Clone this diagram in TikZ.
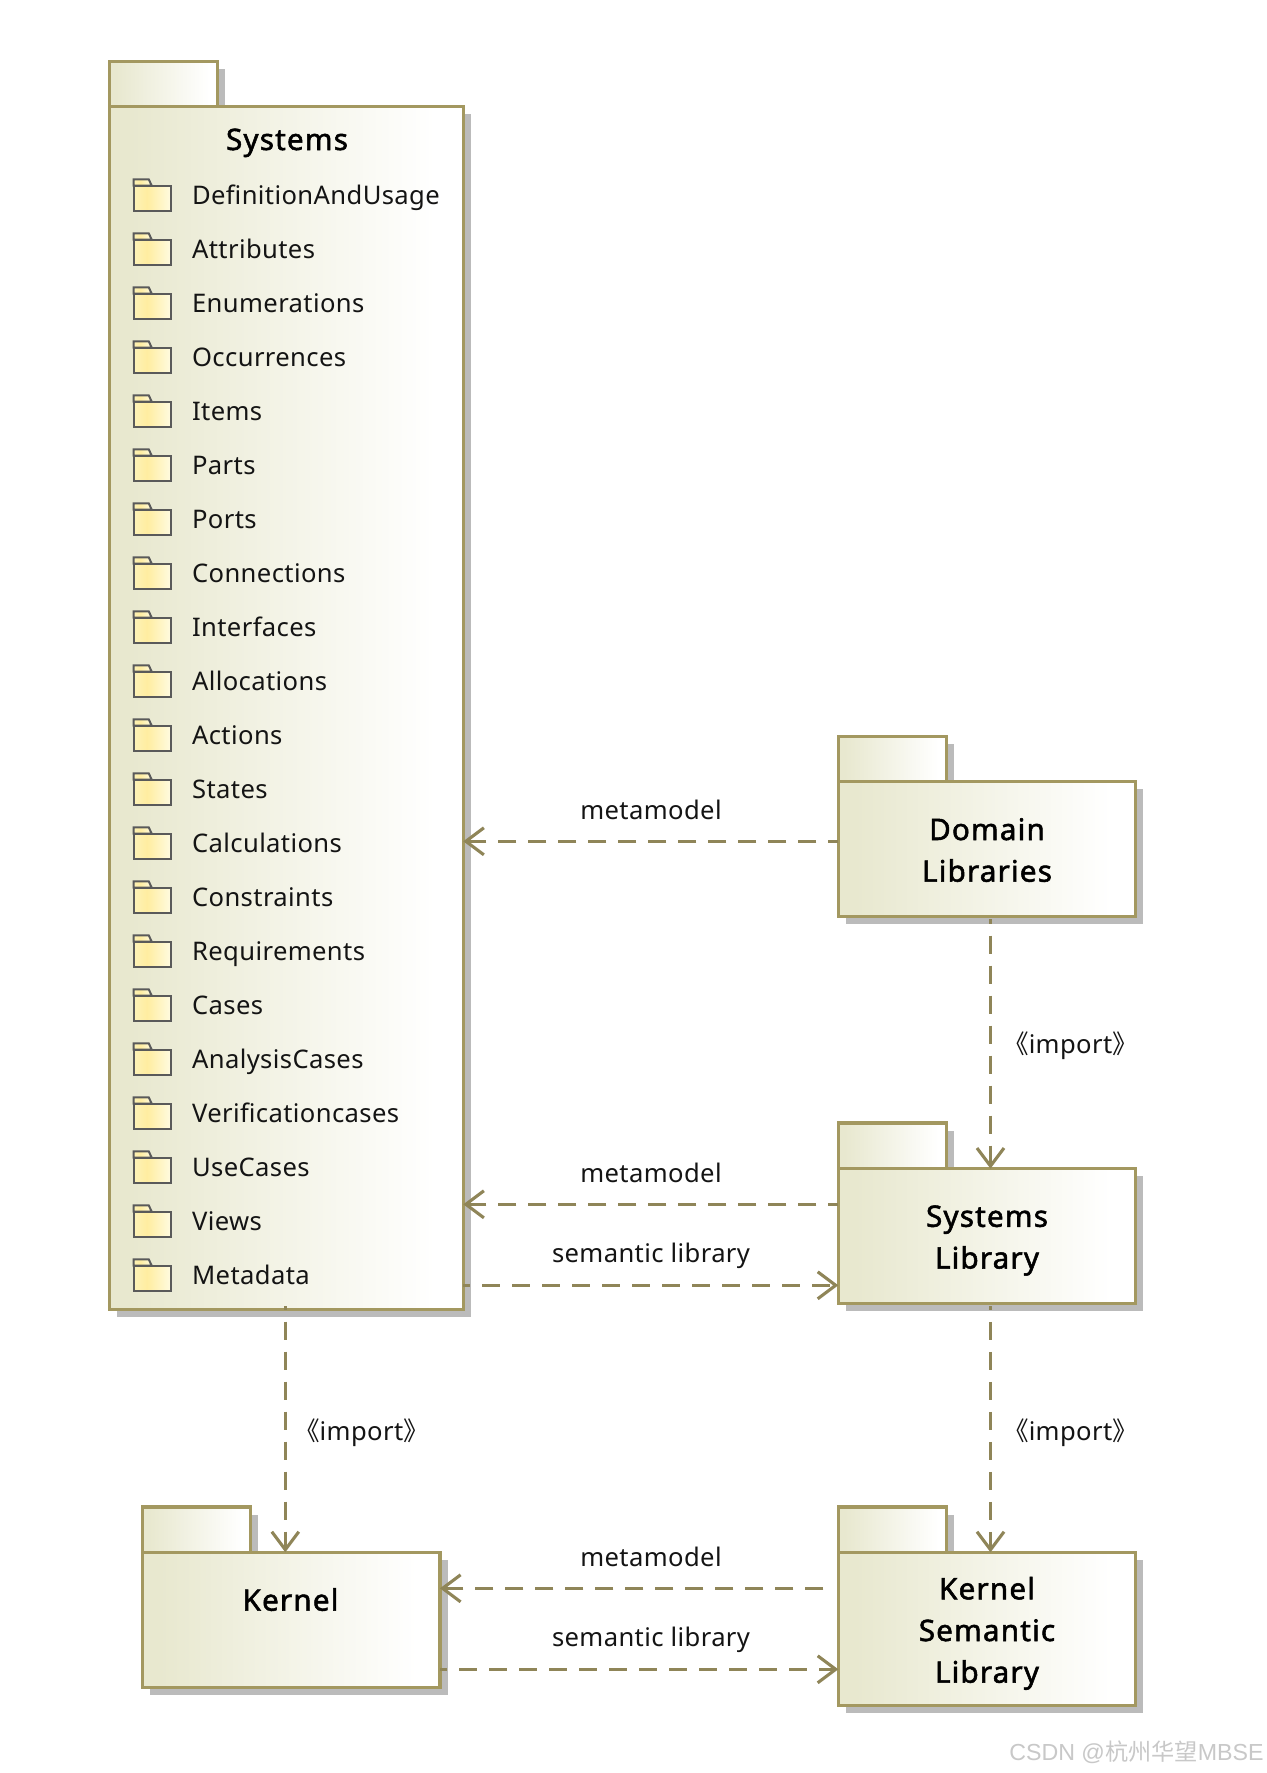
\documentclass[tikz,border=0pt]{standalone}
\usepackage{fontspec}
\usetikzlibrary{arrows.meta,shadows}
\setmainfont{Noto Sans}
\newfontfamily\bodyfont[LetterSpace=1.5]{Noto Sans}
\newfontfamily\titlefont[FakeBold=1.8,LetterSpace=4]{Noto Sans}
\newfontfamily\cjkfont{Noto Sans CJK SC}
\newfontfamily\markfont{Liberation Sans}
\definecolor{pkgborder}{HTML}{A39860}
\definecolor{depline}{HTML}{8F8558}
\definecolor{shadowgray}{HTML}{BBBBBB}
\definecolor{pkgleft}{HTML}{E8E8CF}
\definecolor{folderline}{HTML}{5A5A5A}
\definecolor{folderA}{HTML}{FDF2B8}
\definecolor{folderB}{HTML}{FFEDA0}
\definecolor{folderC}{HTML}{FFFBE0}
\definecolor{markgray}{HTML}{C8C8C8}
\pgfdeclarehorizontalshading{pkgshade}{100bp}{color(0bp)=(pkgleft); color(28bp)=(pkgleft); color(71bp)=(white); color(100bp)=(white)}
\pgfdeclarehorizontalshading{foldershade}{100bp}{color(0bp)=(folderA); color(25bp)=(folderA); color(43bp)=(folderB); color(75bp)=(folderC); color(100bp)=(folderC)}
\tikzset{
  boxsize/.style 2 args={minimum width=#1*0.5pt,minimum height=#2*0.5pt},
  pkgpart/.style={draw=pkgborder,line width=1.55pt,shade,shading=pkgshade,anchor=north west,inner sep=0pt,outer sep=0pt,
    general shadow={fill=shadowgray,shadow xshift=3.75pt,shadow yshift=-3.75pt}},
  dep/.style={draw=depline,line width=1.55pt,dash pattern=on 9pt off 6pt,dash phase=#1,
    -{Straight Barb[length=9pt,width=13.5pt,line width=1.55pt]}},
  title/.style={font=\titlefont\fontsize{14.8}{20.85}\selectfont,text=black,align=center,inner sep=0pt,anchor=base},
  item/.style={font=\bodyfont\fontsize{12.8}{15}\selectfont,text=black!92,inner sep=0pt,anchor=base west},
  lab/.style={font=\bodyfont\fontsize{12.8}{15}\selectfont,text=black!92,inner sep=0pt,anchor=base},
  folder/.style={draw=folderline,line width=1pt,line join=miter,shade,shading=foldershade},
}
\begin{document}
\begin{tikzpicture}[x=0.5pt,y=-0.5pt]
\useasboundingbox[fill=white] (0,0) rectangle (1266,1773);

% packages
\node[pkgpart,boxsize={108.4}{45.4}] (sysTab) at (109.3,61.3) {};
\node[pkgpart,boxsize={354}{1202.6}] (sys) at (109.3,106.7) {};
\node[pkgpart,boxsize={108.4}{45.4}] (domainTab) at (838.3,736.3) {};
\node[pkgpart,boxsize={297}{134.6}] (domain) at (838.3,781.7) {};
\node[pkgpart,boxsize={108.4}{45.4}] (slTab) at (838.3,1123) {};
\node[pkgpart,boxsize={297}{135}] (sl) at (838.3,1168.6) {};
\node[pkgpart,boxsize={108.4}{45.3}] (kernelTab) at (142.3,1507) {};
\node[pkgpart,boxsize={297.7}{135}] (kernel) at (142.3,1552.3) {};
\node[pkgpart,boxsize={108.4}{45.3}] (kslTab) at (838.3,1507) {};
\node[pkgpart,boxsize={297.4}{153.4}] (ksl) at (838.3,1552.3) {};

% titles (multi-line nodes sit on the baseline of their last line)
\node[title] (sysTitle) at (287,150) {Systems};
\node[title] (domainTitle) at (987,881.7) {Domain\\Libraries};
\node[title] (slTitle) at (987,1268.5) {Systems\\Library};
\node[title] (kernelTitle) at (290.5,1610.7) {Kernel};
\node[title] (kslTitle) at (987,1682.7) {Kernel\\Semantic\\Library};

% folder rows
\foreach \t [count=\i from 0] in {DefinitionAndUsage,Attributes,Enumerations,Occurrences,Items,Parts,Ports,Connections,Interfaces,Allocations,Actions,States,Calculations,Constraints,Requirements,Cases,AnalysisCases,Verificationcases,UseCases,Views,Metadata}{
  \begin{scope}[yshift={-27pt*\i}]
    \path[folder] (133.7,185.5) -- (133.7,179.3) -- (148.7,179.3) -- (151.7,185.5) -- cycle;
    \path[folder] (133.7,185.5) rectangle (170.7,211.3);
    \node[item] (row\i) at (191.7,204.3) {\t};
  \end{scope}
}

% connector levels
\coordinate (yDomain) at (0,841.3);
\coordinate (ySlMeta) at (0,1204.3);
\coordinate (ySlSem) at (0,1285.3);
\coordinate (yKMeta) at (0,1588.3);
\coordinate (yKSem) at (0,1669.3);
\coordinate (xLeft) at (285.3,0);
\coordinate (xRight) at (990.5,0);

% connectors
\draw[dep=4pt] (domain.west |- yDomain) -- (sys.east |- yDomain);
\draw[dep=4pt] (sl.west |- ySlMeta) -- (sys.east |- ySlMeta);
\draw[dep=5.5pt] (sys.east |- ySlSem) -- (sl.west |- ySlSem);
\draw[dep=9pt,shorten <=1.5pt] (ksl.west |- yKMeta) -- (kernel.east |- yKMeta);
\draw[dep=5.5pt] (kernel.east |- yKSem) -- (ksl.west |- yKSem);
\draw[dep=6.65pt,shorten <=1.35pt] (domain.south -| xRight) -- (sl.north -| xRight);
\draw[dep=7.2pt,shorten <=1.35pt] (sl.south -| xRight) -- (ksl.north -| xRight);
\draw[dep=7.15pt,shorten <=-1.65pt] (sys.south -| xLeft) -- (kernel.north -| xLeft);

% connector labels
\node[lab] (lab1) at (651,819) {metamodel};
\node[lab] (lab2) at (651,1182) {metamodel};
\node[lab] (lab3) at (651,1262.7) {semantic library};
\node[lab] (lab4) at (651,1566) {metamodel};
\node[lab] (lab5) at (651,1646.7) {semantic library};
\node[lab] (lab6) at (1070.5,1053) {{\cjkfont 《}import{\cjkfont 》}};
\node[lab] (lab7) at (1070.5,1440) {{\cjkfont 《}import{\cjkfont 》}};
\node[lab] (lab8) at (361.5,1440) {{\cjkfont 《}import{\cjkfont 》}};

% watermark
\node[inner sep=0pt,anchor=base east,text=markgray,font=\markfont\fontsize{11.6}{14}\selectfont] (mark) at (1264,1760) {CSDN @{\cjkfont 杭州华望}MBSE};
\end{tikzpicture}
\end{document}
